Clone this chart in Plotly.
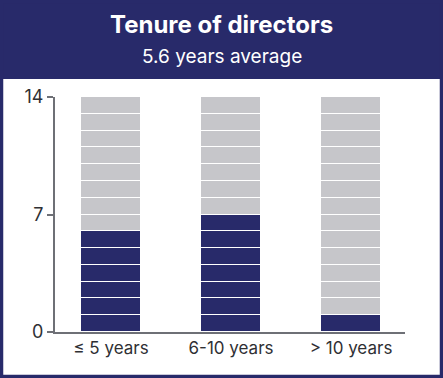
import plotly.graph_objects as go

# ---- data ----
categories = ["≤ 5 years", "6-10 years", "> 10 years"]
directors = [6, 7, 1]
board_size = 14
y_ticks = [0, 7, 14]
title = "Tenure of directors"
subtitle = "5.6 years average"

NAVY = "#282a6a"
GRAY = "#c6c6ca"
AXIS = "#6e7076"
TEXT = "#2f3034"
FONT = "Inter, sans-serif"

W, H = 443, 378
L, R, T, B = 55, 38, 97, 46
PW, PH = W - L - R, H - T - B


def px2x(px):
    return (px - L) / PW


def px2y(py):
    return (H - B - py) / PH


fig = go.Figure()
for i in range(board_size):
    colors = [NAVY if i < d else GRAY for d in directors]
    fig.add_trace(go.Bar(
        x=categories, y=[1] * len(categories),
        marker=dict(color=colors, line=dict(color="white", width=1.5)),
        width=0.5, hoverinfo="skip", showlegend=False,
    ))

fig.update_layout(
    width=W, height=H,
    margin=dict(l=L, r=R, t=T, b=B),
    barmode="stack", bargap=0,
    paper_bgcolor="white", plot_bgcolor="white",
    font=dict(family=FONT, color=TEXT, size=17),
    xaxis=dict(
        range=[-0.467, 2.45], showline=True, linecolor=AXIS, linewidth=2,
        ticks="", showgrid=False, zeroline=False, fixedrange=True,
        tickfont=dict(size=17, color=TEXT),
    ),
    yaxis=dict(
        range=[0, 14], tickvals=y_ticks, showline=True, linecolor=AXIS,
        linewidth=2, ticks="outside", ticklen=6, tickwidth=2, tickcolor=AXIS,
        showgrid=False, zeroline=False, fixedrange=True,
        tickfont=dict(size=18, color=TEXT),
    ),
    shapes=[
        dict(type="rect", xref="paper", yref="paper",
             x0=px2x(-5), x1=px2x(448), y0=px2y(79), y1=px2y(-5),
             fillcolor=NAVY, line=dict(width=0), layer="above"),
        dict(type="rect", xref="paper", yref="paper",
             x0=px2x(1.5), x1=px2x(441.5), y0=px2y(376.5), y1=px2y(1.5),
             fillcolor="rgba(0,0,0,0)", line=dict(color=NAVY, width=3.5),
             layer="above"),
    ],
    annotations=[
        dict(text="<b>" + title + "</b>", xref="paper", yref="paper",
             x=px2x(221.5), y=px2y(24), xanchor="center", yanchor="middle",
             showarrow=False, font=dict(family=FONT, size=24, color="white")),
        dict(text=subtitle, xref="paper", yref="paper",
             x=px2x(221.5), y=px2y(57), xanchor="center", yanchor="middle",
             showarrow=False, font=dict(family=FONT, size=19, color="white")),
    ],
)

fig.write_html(
    "out.html",
    config={"displayModeBar": False},
    post_script="document.body.style.margin='0';document.body.style.padding='0';",
)
